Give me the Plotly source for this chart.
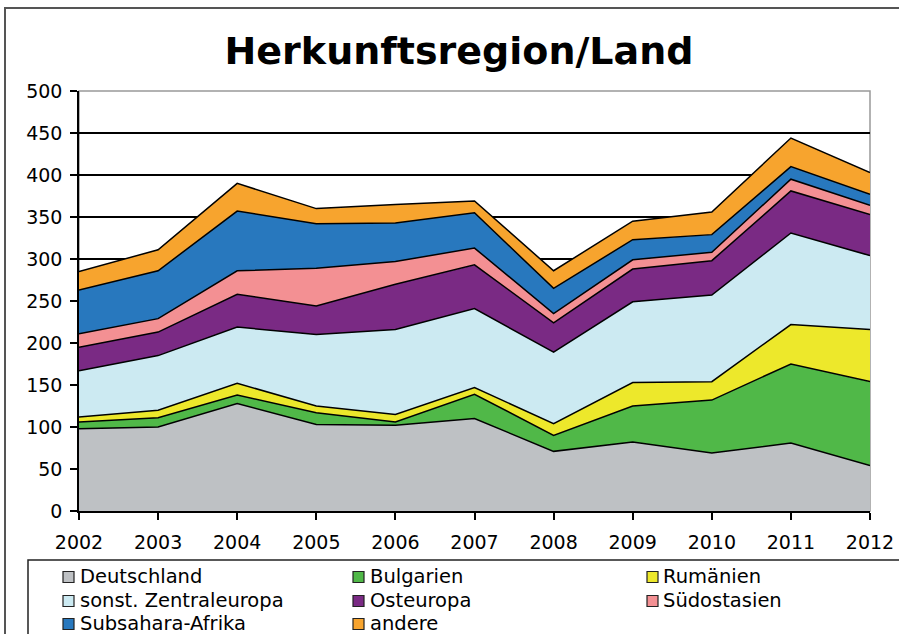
import plotly.graph_objects as go

years = [2002, 2003, 2004, 2005, 2006, 2007, 2008, 2009, 2010, 2011, 2012]

deutschland      = [98, 100, 128, 103, 102, 110, 71, 82, 69, 81, 54]
bulgarien        = [8, 11, 10, 14, 4, 29, 19, 43, 63, 94, 100]
rumaenien        = [6, 9, 14, 8, 9, 8, 14, 28, 22, 47, 62]
zentraleuropa    = [55, 65, 67, 85, 101, 94, 85, 96, 103, 109, 88]
osteuropa        = [28, 28, 39, 34, 54, 52, 35, 39, 41, 50, 49]
suedostasien     = [16, 16, 28, 45, 27, 20, 11, 11, 10, 14, 11]
subsahara        = [52, 57, 71, 53, 46, 42, 30, 24, 21, 15, 13]
andere           = [22, 25, 33, 18, 22, 14, 21, 22, 27, 34, 26]

series_names = ["Deutschland", "Bulgarien", "Rumänien", "sonst. Zentraleuropa",
                "Osteuropa", "Südostasien", "Subsahara-Afrika", "andere"]
series_values = [deutschland, bulgarien, rumaenien, zentraleuropa,
                 osteuropa, suedostasien, subsahara, andere]
colors = ["#BEC1C4", "#50B848", "#EDE82B", "#CCEAF2",
          "#7A2A84", "#F39093", "#2878BE", "#F7A42E"]

y_ticks = [0, 50, 100, 150, 200, 250, 300, 350, 400, 450, 500]
title_text = "Herkunftsregion/Land"

FONT = "DejaVu Sans"

fig = go.Figure()
for name, vals, col in zip(series_names, series_values, colors):
    fig.add_trace(go.Scatter(
        x=years, y=vals, name=name, stackgroup="one", mode="lines",
        line=dict(color="black", width=1.5),
        fillcolor=col, showlegend=False, hoverinfo="x+y+name"))

W, H = 899, 634
L, R, T, B = 79, 29, 91, 123
pw, ph = W - L - R, H - T - B

def px_x(p):
    return (p - L) / pw

def px_y(p):
    return (H - B - p) / ph

shapes = [
    # outer frame
    dict(type="rect", xref="paper", yref="paper",
         x0=px_x(5), x1=px_x(1000), y0=px_y(8), y1=px_y(700),
         line=dict(color="#555555", width=2), layer="below"),
    # legend frame
    dict(type="rect", xref="paper", yref="paper",
         x0=px_x(28), x1=px_x(1000), y0=px_y(560), y1=px_y(700),
         line=dict(color="#222222", width=1.5), layer="below"),
    # plot area border (gray top/right)
    dict(type="rect", xref="paper", yref="paper",
         x0=0, x1=1, y0=0, y1=1,
         line=dict(color="#999999", width=1.5), layer="between"),
]

# legend built as swatches + text, laid out in 3 columns
col_sq_x = [63, 353, 647]
col_tx_x = [80, 370, 663]
row_y = [576, 600, 623]
annotations = []
for i, (name, col) in enumerate(zip(series_names, colors)):
    r, c = divmod(i, 3)
    cy = row_y[r]
    shapes.append(dict(type="rect", xref="paper", yref="paper",
                       x0=px_x(col_sq_x[c]), x1=px_x(col_sq_x[c] + 11),
                       y0=px_y(cy + 6.5), y1=px_y(cy - 4.5),
                       fillcolor=col, line=dict(color="#222222", width=1.2),
                       layer="above"))
    annotations.append(dict(text=name, xref="paper", yref="paper",
                            x=px_x(col_tx_x[c] - 2), y=px_y(cy),
                            xanchor="left", yanchor="middle", showarrow=False,
                            font=dict(family=FONT, size=19.5, color="black")))

fig.update_layout(
    width=W, height=H,
    margin=dict(l=L, r=R, t=T, b=B, autoexpand=False),
    paper_bgcolor="white", plot_bgcolor="white",
    font=dict(family=FONT, size=19, color="black"),
    showlegend=False,
    title=dict(text="<b>" + title_text + "</b>",
               font=dict(family=FONT, size=38, color="black"),
               x=459 / W, xanchor="center", xref="container",
               y=1 - 51 / H, yanchor="middle"),
    xaxis=dict(range=[2002, 2012], tickmode="array", tickvals=years,
               ticktext=[str(y) for y in years],
               showgrid=False, zeroline=False,
               showline=True, linecolor="black", linewidth=1.5,
               ticks="outside", ticklen=7, tickwidth=1.5, tickcolor="black",
               ticklabelstandoff=6,
               tickfont=dict(family=FONT, size=19)),
    yaxis=dict(range=[0, 500], tickmode="array", tickvals=y_ticks,
               showgrid=True, gridcolor="black", gridwidth=1.5,
               zeroline=False,
               showline=True, linecolor="black", linewidth=1.5,
               ticks="outside", ticklen=7, tickwidth=1.5, tickcolor="black",
               ticklabelstandoff=4,
               tickfont=dict(family=FONT, size=19)),
    shapes=shapes,
    annotations=annotations,
    hovermode="x",
)

fig.write_html("out.html",
               config={"displayModeBar": False},
               post_script="document.body.style.margin='0';")
